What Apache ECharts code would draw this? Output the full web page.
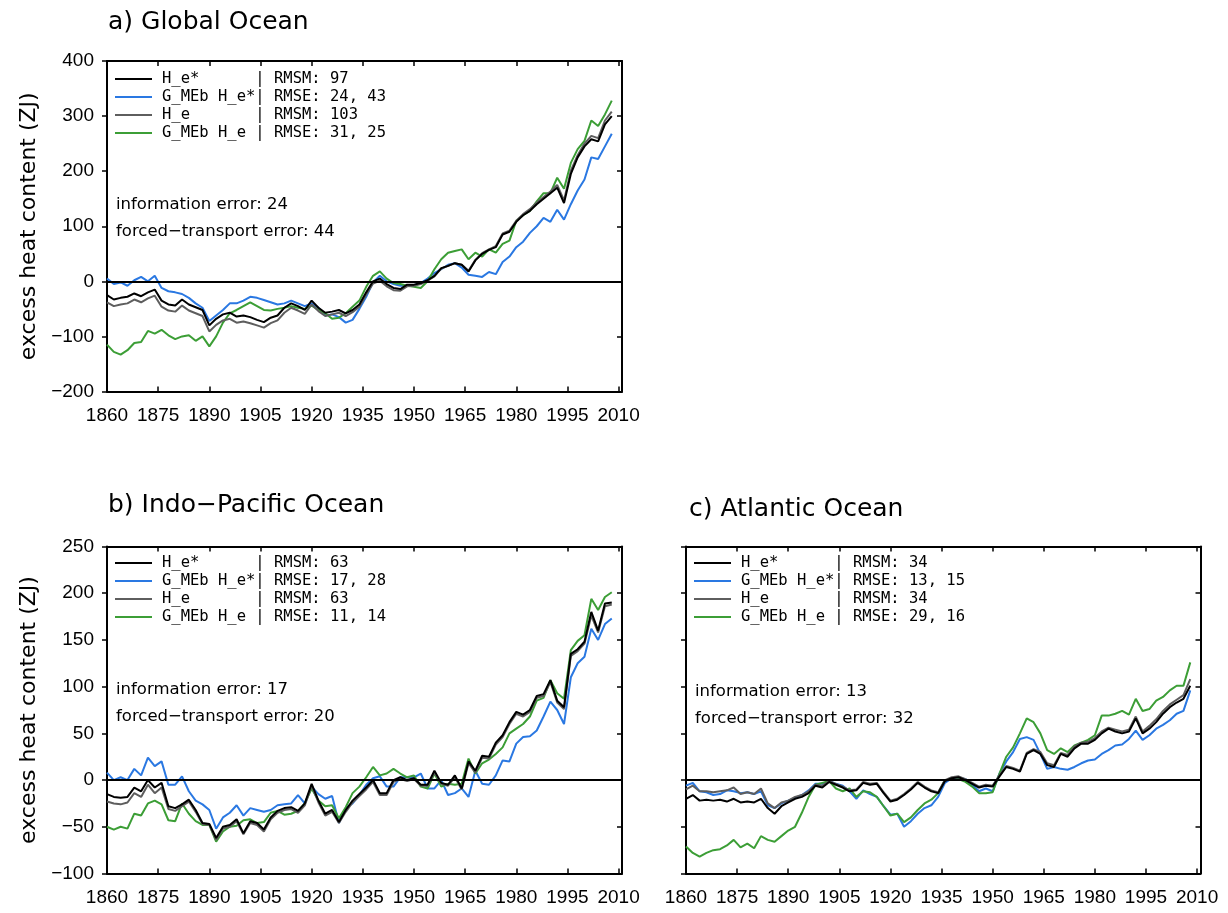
<!DOCTYPE html>
<html><head><meta charset="utf-8">
<script src="https://cdn.jsdelivr.net/npm/echarts@6/dist/echarts.min.js"></script>
<style>html,body{margin:0;padding:0;background:#fff}#c{width:1228px;height:913px}</style>
</head><body><div id="c"></div>
<script>
// ---------- DATA ----------
const YEARS = [1860,1862,1864,1866,1868,1870,1872,1874,1876,1878,
1880,1882,1884,1886,1888,1890,1892,1894,1896,1898,
1900,1902,1904,1906,1908,1910,1912,1914,1916,1918,
1920,1922,1924,1926,1928,1930,1932,1934,1936,1938,
1940,1942,1944,1946,1948,1950,1952,1954,1956,1958,
1960,1962,1964,1966,1968,1970,1972,1974,1976,1978,
1980,1982,1984,1986,1988,1990,1992,1994,1996,1998,
2000,2002,2004,2006,2008];

const X_TICKS = [1860,1875,1890,1905,1920,1935,1950,1965,1980,1995,2010];
const SERIES_NAMES = ['H_e*','G_MEb H_e*','H_e','G_MEb H_e'];

// a) Global Ocean
const GLOBAL_HE_STAR = [-25,-33,-30,-28,-22,-27,-20,-15,-35,-42,
-44,-33,-42,-47,-52,-80,-68,-60,-57,-64,
-62,-65,-70,-74,-66,-62,-48,-40,-45,-52,
-35,-48,-57,-55,-52,-58,-52,-42,-20,0,
5,-5,-12,-14,-6,-6,-3,2,10,24,
28,33,30,18,38,50,57,62,85,90,
108,120,128,140,150,160,170,142,195,225,
245,258,254,285,300];
const GLOBAL_GMEB_HE_STAR = [5,-5,-2,-8,2,8,0,10,-12,-18,
-20,-23,-30,-40,-48,-72,-62,-52,-40,-40,
-35,-28,-30,-34,-38,-42,-40,-35,-40,-45,
-40,-48,-62,-60,-65,-75,-70,-50,-28,-2,
10,0,-5,-8,-8,-7,-3,5,15,22,
30,33,25,12,10,8,17,13,35,45,
62,72,88,100,115,108,130,112,140,165,
185,225,222,245,268];
const GLOBAL_HE = [-38,-45,-42,-40,-33,-38,-31,-26,-46,-53,
-55,-44,-53,-58,-63,-91,-79,-71,-68,-75,
-73,-76,-80,-84,-76,-71,-57,-48,-53,-59,
-42,-54,-63,-60,-57,-63,-56,-46,-24,-4,
1,-9,-16,-17,-9,-8,-5,1,9,23,
28,33,30,19,39,51,58,64,87,92,
110,122,131,143,153,163,175,147,201,229,
250,264,260,292,308];
const GLOBAL_GMEB_HE = [-115,-128,-133,-125,-112,-110,-90,-95,-88,-98,
-105,-100,-98,-108,-100,-118,-100,-75,-58,-52,
-45,-38,-45,-52,-53,-50,-48,-45,-48,-50,
-44,-52,-58,-68,-66,-58,-46,-35,-10,10,
18,5,-3,-5,-8,-10,-12,0,22,40,
52,55,58,40,52,45,58,52,68,74,
110,120,128,145,160,160,188,168,215,240,
255,292,282,303,328];

// b) Indo-Pacific Ocean
const INDOPAC_HE_STAR = [-15,-18,-19,-18,-8,-12,0,-8,-3,-28,
-30,-26,-21,-32,-46,-47,-62,-50,-48,-42,
-57,-44,-46,-53,-40,-33,-30,-29,-33,-25,
-4,-22,-36,-32,-45,-32,-22,-15,-8,0,
-14,-14,0,3,0,2,-5,-5,10,-3,
-5,5,-9,20,10,26,25,40,48,62,
73,70,75,90,92,107,85,78,135,140,
148,180,160,189,190];
const INDOPAC_GMEB_HE_STAR = [8,0,3,0,12,5,24,15,20,-5,
-5,4,-12,-22,-26,-32,-52,-40,-35,-27,
-38,-30,-32,-34,-32,-27,-26,-25,-16,-25,
-7,-15,-20,-17,-46,-30,-25,-16,-5,2,
4,-7,-7,3,3,3,7,-9,-9,0,
-16,-14,-9,-18,10,-4,-5,5,21,20,
39,46,47,53,68,84,75,60,110,125,
132,162,150,167,173];
const INDOPAC_HE = [-23,-25,-26,-24,-14,-18,-5,-14,-8,-31,
-33,-28,-23,-34,-47,-48,-64,-52,-50,-44,
-58,-46,-48,-55,-42,-35,-32,-31,-35,-27,
-6,-24,-38,-34,-46,-34,-24,-17,-10,-2,
-16,-16,-2,1,-1,1,-6,-6,8,-4,
-6,3,-10,18,8,24,23,38,46,60,
71,68,73,88,90,105,83,76,133,138,
146,176,158,186,188];
const INDOPAC_GMEB_HE = [-50,-53,-50,-52,-36,-38,-25,-22,-26,-43,
-44,-25,-36,-44,-48,-48,-66,-55,-50,-49,
-43,-42,-46,-45,-35,-33,-37,-36,-33,-25,
-9,-22,-28,-27,-41,-29,-14,-7,3,14,
5,7,12,7,3,5,-7,-9,7,-7,
-4,-5,-4,23,7,18,22,28,35,50,
55,60,68,85,88,107,93,87,139,149,
155,194,182,196,201];

// c) Atlantic Ocean
const ATL_HE_STAR = [-20,-16,-22,-21,-22,-21,-23,-20,-24,-23,
-24,-20,-30,-36,-28,-24,-20,-18,-14,-6,
-8,-2,-5,-8,-12,-11,-3,-5,-4,-14,
-23,-21,-16,-10,-3,-8,-12,-14,-1,2,
3,0,-4,-8,-6,-7,4,14,12,9,
28,32,28,16,14,28,25,34,39,39,
43,50,55,52,50,52,66,50,55,62,
71,78,83,87,101];
const ATL_GMEB_HE_STAR = [-6,-3,-12,-13,-16,-15,-11,-12,-14,-13,
-15,-12,-27,-30,-25,-22,-19,-16,-11,-4,
-4,-1,-4,-6,-12,-20,-11,-15,-18,-28,
-37,-36,-50,-44,-36,-30,-27,-18,-3,2,
3,1,-5,-12,-9,-12,7,20,30,44,
46,43,28,12,14,12,11,14,18,21,
22,28,32,37,38,44,53,43,48,55,
59,64,71,74,96];
const ATL_HE = [-10,-6,-12,-12,-13,-12,-11,-8,-15,-13,
-15,-9,-25,-30,-24,-22,-18,-16,-12,-5,
-6,-1,-4,-7,-11,-10,-2,-4,-3,-13,
-22,-20,-15,-9,-2,-7,-11,-13,0,3,
4,1,-3,-7,-5,-6,5,15,13,10,
29,33,30,18,16,29,27,36,40,41,
45,52,56,54,52,54,68,52,58,65,
74,81,86,91,108];
const ATL_GMEB_HE = [-71,-78,-82,-78,-75,-74,-70,-64,-72,-68,
-73,-60,-64,-66,-60,-54,-50,-35,-18,-5,
-3,-1,-9,-12,-9,-18,-12,-13,-18,-28,
-38,-36,-45,-40,-32,-25,-21,-14,0,0,
1,-2,-7,-14,-14,-13,7,25,35,50,
66,62,50,32,28,34,30,37,40,43,
48,69,69,71,74,70,87,74,76,85,
89,96,101,101,126];

const LEGEND_A = ['H_e*      | RMSM: 97','G_MEb H_e*| RMSE: 24, 43','H_e       | RMSM: 103','G_MEb H_e | RMSE: 31, 25'];
const LEGEND_B = ['H_e*      | RMSM: 63','G_MEb H_e*| RMSE: 17, 28','H_e       | RMSM: 63','G_MEb H_e | RMSE: 11, 14'];
const LEGEND_C = ['H_e*      | RMSM: 34','G_MEb H_e*| RMSE: 13, 15','H_e       | RMSM: 34','G_MEb H_e | RMSE: 29, 16'];

const INFO_A = ['information error: 24','forced\u2212transport error: 44'];
const INFO_B = ['information error: 17','forced\u2212transport error: 20'];
const INFO_C = ['information error: 13','forced\u2212transport error: 32'];

const TITLES = ['a) Global Ocean','b) Indo\u2212Pacific Ocean','c) Atlantic Ocean'];
const Y_NAME = 'excess heat content (ZJ)';

// ---------- STYLE / LAYOUT ----------
const COLORS = {'H_e*':'#000000','G_MEb H_e*':'#2a78e2','H_e':'#5e5e5e','G_MEb H_e':'#3c9e36'};
const WIDTHS = {'H_e*':2,'G_MEb H_e*':2,'H_e':2,'G_MEb H_e':2};
const DRAW_ORDER = ['G_MEb H_e*','G_MEb H_e','H_e','H_e*'];

const panels = [
  {grid:{left:107,top:61,width:515,height:330.5}, ymin:-200,ymax:400,yint:100, yLabels:true,
   title:TITLES[0], tPos:{left:108,top:10},
   legend:LEGEND_A, lPos:{left:115,top:70},
   info:INFO_A, iPos:{left:116,tops:[196,223]},
   data:{'H_e*':GLOBAL_HE_STAR,'G_MEb H_e*':GLOBAL_GMEB_HE_STAR,'H_e':GLOBAL_HE,'G_MEb H_e':GLOBAL_GMEB_HE}},
  {grid:{left:107,top:546.5,width:515,height:327}, ymin:-100,ymax:250,yint:50, yLabels:true,
   title:TITLES[1], tPos:{left:108,top:493},
   legend:LEGEND_B, lPos:{left:115,top:554},
   info:INFO_B, iPos:{left:116,tops:[681,708]},
   data:{'H_e*':INDOPAC_HE_STAR,'G_MEb H_e*':INDOPAC_GMEB_HE_STAR,'H_e':INDOPAC_HE,'G_MEb H_e':INDOPAC_GMEB_HE}},
  {grid:{left:686,top:546.5,width:514.5,height:327}, ymin:-100,ymax:250,yint:50, yLabels:false,
   title:TITLES[2], tPos:{left:689,top:497},
   legend:LEGEND_C, lPos:{left:694,top:554},
   info:INFO_C, iPos:{left:695,tops:[683,710]},
   data:{'H_e*':ATL_HE_STAR,'G_MEb H_e*':ATL_GMEB_HE_STAR,'H_e':ATL_HE,'G_MEb H_e':ATL_GMEB_HE}}
];

const tickFont = {fontFamily:'Liberation Sans', fontSize:19, color:'#000'};
const minusFmt = v => v < 0 ? '\u2212' + (-v) : String(v);

const option = {animation:false, backgroundColor:'#fff',
  grid:[], xAxis:[], yAxis:[], series:[], legend:[], title:[]};

panels.forEach((p, i) => {
  option.grid.push(Object.assign({containLabel:false}, p.grid));
  const xb = option.xAxis.length;
  const xCommon = {type:'value', gridIndex:i, min:1860, max:2011, interval:15,
    splitLine:{show:false},
    axisLine:{show:true, onZero:false, lineStyle:{color:'#000', width:2}},
    axisTick:{show:true, inside:true, length:5, lineStyle:{color:'#000', width:1.5}}};
  option.xAxis.push(Object.assign({}, xCommon, {position:'bottom',
    axisLabel:Object.assign({show:true, margin:15, showMaxLabel:true,
      formatter: v => X_TICKS.indexOf(v) >= 0 ? String(v) : ''}, tickFont)}));
  option.xAxis.push(Object.assign({}, xCommon, {position:'top', axisLabel:{show:false}}));
  const yb = option.yAxis.length;
  const yCommon = {type:'value', gridIndex:i, min:p.ymin, max:p.ymax, interval:p.yint,
    splitLine:{show:false},
    axisLine:{show:true, onZero:false, lineStyle:{color:'#000', width:2}}};
  option.yAxis.push(Object.assign({}, yCommon, {position:'left',
    axisTick:{show:true, inside:false, length:5, lineStyle:{color:'#000', width:1.5}},
    axisLabel:Object.assign({show:p.yLabels, margin:13, formatter:minusFmt}, tickFont),
    name: p.yLabels ? Y_NAME : '', nameLocation:'middle', nameGap:67, nameRotate:90,
    nameTextStyle:{fontFamily:'DejaVu Sans', fontSize:22, color:'#000'}}));
  option.yAxis.push(Object.assign({}, yCommon, {position:'right',
    axisTick:{show:true, inside:true, length:5, lineStyle:{color:'#000', width:1.5}},
    axisLabel:{show:false}}));

  DRAW_ORDER.forEach(name => {
    const vals = p.data[name];
    const s = {type:'line', name:name, xAxisIndex:xb, yAxisIndex:yb,
      data: YEARS.map((y, k) => [y, vals[k]]),
      showSymbol:false, symbol:'none', smooth:false,
      color:COLORS[name], itemStyle:{color:COLORS[name]},
      lineStyle:{color:COLORS[name], width:WIDTHS[name]}};
    if (name === 'H_e*') {
      s.markLine = {silent:true, symbol:['none','none'], label:{show:false},
        lineStyle:{color:'#000', width:2, type:'solid'}, data:[{yAxis:0}]};
    }
    option.series.push(s);
  });

  const legMap = {};
  SERIES_NAMES.forEach((n, k) => legMap[n] = p.legend[k]);
  option.legend.push({show:true, orient:'vertical', left:p.lPos.left, top:p.lPos.top,
    padding:0, itemGap:0, itemWidth:37, itemHeight:2, icon:'rect',
    selectedMode:false, data:SERIES_NAMES.slice(),
    formatter: n => legMap[n],
    textStyle:{fontFamily:'DejaVu Sans Mono', fontSize:15.5, color:'#000', lineHeight:18, padding:[0,0,0,5]}});

  option.title.push({text:p.title, left:p.tPos.left, top:p.tPos.top, padding:0,
    textStyle:{fontFamily:'DejaVu Sans', fontWeight:'normal', fontSize:25, color:'#000'}});
  p.info.forEach((t, k) => {
    option.title.push({text:t, left:p.iPos.left, top:p.iPos.tops[k], padding:0,
      textStyle:{fontFamily:'DejaVu Sans', fontWeight:'normal', fontSize:16.5, color:'#000'}});
  });
});

const chart = echarts.init(document.getElementById('c'), null, {renderer:'canvas'});
chart.setOption(option);
</script></body></html>
